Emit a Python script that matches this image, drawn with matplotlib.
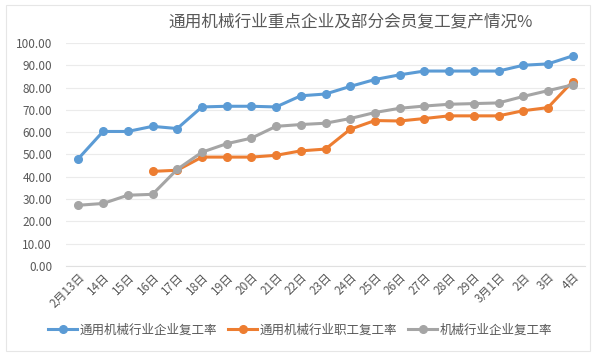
import matplotlib.pyplot as plt
import numpy as np

plt.rcParams['font.family'] = ['Noto Sans CJK SC', 'DejaVu Sans']

dates = ['2月13日', '14日', '15日', '16日', '17日', '18日', '19日', '20日', '21日',
         '22日', '23日', '24日', '25日', '26日', '27日', '28日', '29日', '3月1日',
         '2日', '3日', '4日']
enterprise = [48.1, 60.3, 60.3, 62.6, 61.6, 71.3, 71.6, 71.6, 71.3, 76.3, 77.1,
              80.5, 83.6, 85.7, 87.4, 87.4, 87.4, 87.4, 90.0, 90.6, 94.2]
staff = [None, None, None, 42.4, 42.9, 48.8, 48.8, 48.8, 49.6, 51.6, 52.4,
         61.3, 65.2, 65.0, 66.1, 67.3, 67.3, 67.3, 69.6, 71.0, 82.7]
machinery = [27.2, 28.0, 31.7, 32.1, 43.3, 51.0, 54.8, 57.3, 62.6, 63.4, 64.0,
             66.1, 68.8, 70.7, 71.7, 72.5, 72.8, 73.1, 76.0, 78.6, 81.2]
names = ['通用机械行业企业复工率', '通用机械行业职工复工率', '机械行业企业复工率']
colors = ['#5B9BD5', '#ED7D31', '#A5A5A5']

fig = plt.figure(figsize=(6, 3.55), dpi=100)
ax = fig.add_axes([0.11, 0.251, 0.865, 0.628])

x = np.arange(len(dates))
for vals, name, c in zip([enterprise, staff, machinery], names, colors):
    y = np.array([np.nan if v is None else v for v in vals])
    ax.plot(x, y, color=c, lw=2.2, marker='o', ms=5.5, label=name)

ax.set_xlim(-0.5, len(dates) - 0.5)
ax.set_ylim(0, 100)
ax.set_yticks(np.arange(0, 101, 10))
ax.set_yticklabels([f'{v:.2f}' for v in np.arange(0, 101, 10)])
ax.set_xticks(x)
ax.set_xticklabels(dates, rotation=45, ha='right', rotation_mode='anchor')
ax.grid(axis='y', color='#EBEBEB', lw=0.8)
ax.set_axisbelow(True)
for s in ax.spines.values():
    s.set_visible(False)
ax.spines['bottom'].set_visible(True)
ax.spines['bottom'].set_color('#E0E0E0')
ax.tick_params(axis='both', length=0, colors='#595959', labelsize=8.5)
ax.tick_params(axis='y', pad=10)

fig.text(0.585, 0.938, '通用机械行业重点企业及部分会员复工复产情况%',
         ha='center', va='center', fontsize=12, color='#595959', fontweight='medium')

fig.legend(loc='center', bbox_to_anchor=(0.5, 0.07), ncol=3, frameon=False,
           fontsize=9, labelcolor='#595959', handlelength=2.3, columnspacing=0.9,
           handletextpad=0.2)

fig.patches.append(plt.Rectangle((0.01, 0.012), 0.973, 0.975, transform=fig.transFigure,
                                 fill=False, edgecolor='#E6E6E6', lw=0.8))

fig.savefig('out.png', dpi=100)
